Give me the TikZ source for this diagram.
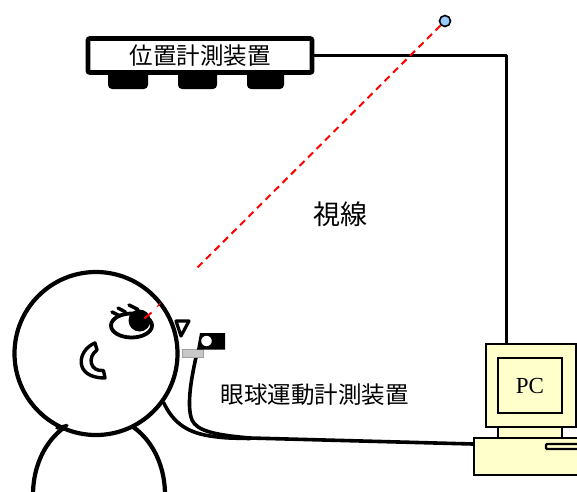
\documentclass[tikz,border=0pt]{standalone}
\usepackage{fontspec}
\setmainfont{Liberation Serif}
\newfontfamily\jpfont{Noto Sans CJK JP}
\usetikzlibrary{shapes.geometric}
\definecolor{pcyellow}{HTML}{FFFFCC}
\definecolor{dotblue}{HTML}{99CCFF}
\definecolor{sightred}{HTML}{FF0000}
\definecolor{barsgray}{HTML}{C8C8C8}
\begin{document}
\begin{tikzpicture}[x=1pt,y=-1pt,
  outline/.style={line width=4.2pt, line cap=round, line join=round},
  wire/.style={line width=3pt, line join=round},
  cable/.style={line width=3.6pt, line cap=round, line join=round},
  foot/.style={fill=black, rounded corners=4pt},
  pcpart/.style={draw, fill=pcyellow, line width=2.2pt, inner sep=0pt},
  sight/.style={draw=sightred, line width=2pt, dash pattern=on 7pt off 5pt},
  lash/.style={line width=3.4pt, line cap=round},
  jlabel/.style={font=\jpfont\fontsize{23.5}{26}\selectfont, inner sep=0pt}]
\useasboundingbox (0,0) rectangle (577,491);

% feet of the position sensor bar
\fill[foot] (108,68) rectangle (148,89);
\fill[foot] (178,68) rectangle (217,89);
\fill[foot] (247,68) rectangle (284,89);

% position sensor bar
\node[draw, fill=white, line width=4.8pt, rounded corners=2pt,
      minimum width=224pt, minimum height=34pt, inner sep=0pt,
      jlabel] (tracker) at (200,55.5) {位置計測装置};

% PC: stand, monitor, screen, base, drive slot
\node[pcpart, minimum width=64pt, minimum height=11pt] (neck) at (530,432.5) {};
\node[pcpart, minimum width=90pt, minimum height=83pt] (monitor) at (531,385.5) {};
\node[pcpart, minimum width=64pt, minimum height=55pt,
      font=\fontsize{23}{26}\selectfont] (screen) at (530,385.5) {PC};
\node[pcpart, minimum width=108pt, minimum height=37pt] (base) at (528,456.5) {};
\node[pcpart, minimum width=36pt, minimum height=5pt, rounded corners=1pt] (slot) at (564,446.5) {};

% sensor bar to PC
\draw[wire] (tracker.east) -| ([xshift=-25pt]monitor.north);

% gaze target and line of sight
\node[circle, draw, fill=dotblue, line width=1.6pt, minimum size=11pt, inner sep=0pt] (target) at (445,21) {};
\coordinate (gazeend) at (197,268);
\draw[sight] (target) -- (gazeend);
\node[jlabel, font=\jpfont\fontsize{27}{30}\selectfont] (sightlabel) at (340,214) {視線};

% body
\draw[outline] (33,495) .. controls (33,449.6) and (62.6,416) .. (99,416)
               .. controls (135.4,416) and (165,449.6) .. (165,495);

% head
\node[circle, draw, fill=white, line width=4.2pt, minimum size=163pt, inner sep=0pt] (head) at (96,353.5) {};
\draw[line width=3.4pt, line cap=round] (57,428) -- (67,425.5);

% eye
\node[ellipse, draw, fill=white, line width=3.8pt, minimum width=41pt, minimum height=24pt, inner sep=0pt] (eye) at (131.5,325.5) {};
\node[circle, fill=black, minimum size=22pt, inner sep=0pt] (pupil) at (139.5,320.5) {};
\draw[lash] (112,312) -- (120,316);
\draw[lash] (118,308) -- (125.5,312);
\draw[lash] (129,305) -- (138,309.5);
\draw[sightred, line width=2pt] (pupil.center) ++(5,-2) -- ++(7,-6);
\draw[sightred, line width=1pt] (157,307) -- (160.5,303);

% ear
\draw[line width=3.4pt, line join=round, fill=white]
  (95,343) .. controls (77,350) and (73,378) .. (105,378) -- (103.5,370.5)
  .. controls (90,372) and (87,357) .. (97,350) -- cycle;

% nose
\draw[line width=3.2pt, line join=round, fill=white] (176,321) -- (189,321) -- (181,336) -- cycle;

% eye camera on its mount
\coordinate (camfoot) at (196.5,355);
\draw[cable] (camfoot) .. controls (192,375) and (186,405) .. (192,420)
  .. controls (197,431) and (215,435) .. (250,438) -- (base.west |- 0,444);
\draw[cable] (head.-36) .. controls (172,420) and (184,432) .. (210,436)
  .. controls (225,438) .. (250,438.5);
\node[draw=barsgray!80!black, fill=barsgray, line width=0.5pt, minimum width=21pt, minimum height=8pt, inner sep=0pt] (mount) at (193,353) {};
\fill (200,333) -- (225,333) -- (225,349.5) -- (197,349.5) -- cycle;
\node[circle, draw=black, fill=white, line width=1.8pt, minimum size=12.5pt, inner sep=0pt] (lens) at (206.5,341) {};

\node[jlabel] (camlabel) at (314.5,395) {眼球運動計測装置};
\end{tikzpicture}
\end{document}
